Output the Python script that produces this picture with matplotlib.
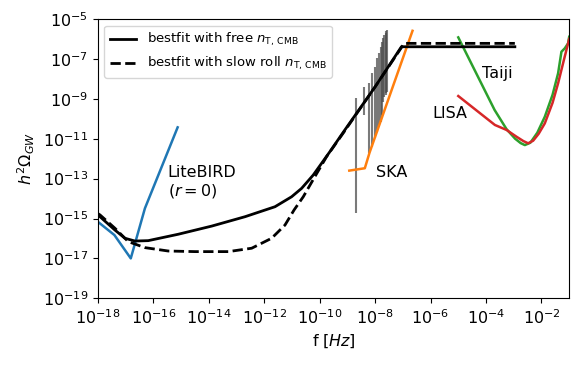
import numpy as np
import matplotlib
matplotlib.use("Agg")
import matplotlib.pyplot as plt
from matplotlib.ticker import NullLocator

# ---- data (log10 values) ----
free_logf = [-18.0, -17.92, -17.38, -17.02, -16.66, -16.18, -15.10, -13.89, -12.69, -11.61, -11.01,
             -10.65, -10.23, -9.63, -9.09, -8.0, -7.05, -2.96]
free_logy = [-14.87, -14.91, -15.58, -15.99, -16.13, -16.11, -15.79, -15.38, -14.91, -14.41, -13.91,
             -13.49, -12.82, -11.65, -10.56, -8.4, -6.39, -6.39]

slow_logf = [-18.0, -17.92, -17.38, -16.9, -16.3, -15.46, -14.49, -13.29, -12.45, -11.73, -11.25,
             -10.92, -10.59, -10.17, -9.75, -9.09, -8.0, -6.95, -2.96]
slow_logy = [-14.75, -14.82, -15.49, -16.16, -16.46, -16.63, -16.66, -16.66, -16.49, -15.99, -15.33,
             -14.57, -13.91, -12.9, -11.9, -10.6, -8.4, -6.22, -6.22]

litebird_logf = [-18.0, -17.4, -16.81, -16.3, -15.12]
litebird_logy = [-15.16, -15.83, -17.0, -14.49, -10.43]

ska_logf = [-8.93, -8.37, -8.2, -6.65]
ska_logy = [-12.6, -12.48, -11.7, -5.59]

taiji_logf = [-5.0, -3.69, -3.26, -2.95, -2.75, -2.6, -2.4, -2.15, -1.88, -1.6, -1.40, -1.28, -1.16, -1.04, -1.0]
taiji_logy = [-5.92, -9.56, -10.52, -11.0, -11.22, -11.32, -11.2, -10.7, -9.90, -8.8, -7.72, -6.64, -6.47, -6.22, -5.89]

lisa_logf = [-5.0, -3.68, -3.26, -2.9, -2.65, -2.48, -2.3, -2.1, -1.88, -1.6, -1.40, -1.2, -1.04, -1.0]
lisa_logy = [-8.86, -10.31, -10.56, -10.9, -11.12, -11.23, -11.1, -10.75, -10.23, -9.2, -8.22, -7.1, -6.22, -6.0]

# PTA violins: frequency (Hz), lower / upper log10(h^2 Omega)
pta_f = [1.98e-9, 3.96e-9, 5.94e-9, 7.92e-9, 9.90e-9, 1.19e-8, 1.39e-8, 1.58e-8, 1.78e-8, 1.98e-8,
         2.18e-8, 2.38e-8, 2.57e-8, 2.77e-8]
pta_lo = [-14.72, -9.81, -11.72, -11.40, -10.96, -10.65, -10.31, -10.15, -9.81, -9.15, -8.9, -8.8, -8.7, -8.64]
pta_hi = [-8.96, -8.39, -8.21, -7.71, -7.39, -6.95, -6.70, -6.39, -6.14, -5.95, -5.8, -5.7, -5.6, -5.55]

xticks_exp = [-18, -16, -14, -12, -10, -8, -6, -4, -2]
yticks_exp = [-19, -17, -15, -13, -11, -9, -7, -5]

def p(a):
    return 10.0 ** np.asarray(a, dtype=float)

fig = plt.figure(figsize=(5.82, 3.66), dpi=100)
ax = fig.add_axes([0.168, 0.185, 0.81, 0.763])

# PTA violins
for f, lo, hi in zip(pta_f, pta_lo, pta_hi):
    ax.vlines(f, 10**lo, 10**hi, color='0.3', lw=1.5, alpha=0.75, zorder=1)

ax.plot(p(litebird_logf), p(litebird_logy), color='#1f77b4', lw=1.8, zorder=2)
ax.plot(p(ska_logf), p(ska_logy), color='#ff7f0e', lw=1.8, zorder=2)
ax.plot(p(taiji_logf), p(taiji_logy), color='#2ca02c', lw=1.8, zorder=2)
ax.plot(p(lisa_logf), p(lisa_logy), color='#d62728', lw=1.8, zorder=2)

ax.plot(p(free_logf), p(free_logy), color='black', lw=2, ls='-',
        label=r'bestfit with free $n_{\rm T,\,CMB}$', zorder=3)
ax.plot(p(slow_logf), p(slow_logy), color='black', lw=2, ls='--',
        label=r'bestfit with slow roll $n_{\rm T,\,CMB}$', zorder=3)

ax.set_xscale('log')
ax.set_yscale('log')
ax.set_xlim(1e-18, 1e-1)
ax.set_ylim(1e-19, 1e-5)
ax.set_xticks([10.0**e for e in xticks_exp])
ax.set_xticklabels([r'$10^{%d}$' % e for e in xticks_exp])
ax.set_yticks([10.0**e for e in yticks_exp])
ax.set_yticklabels([r'$10^{%d}$' % e for e in yticks_exp])
ax.xaxis.set_minor_locator(NullLocator())
ax.yaxis.set_minor_locator(NullLocator())
ax.tick_params(labelsize=11.5)

ax.set_xlabel(r'f $[Hz]$', fontsize=11.5)
ax.set_ylabel(r'$h^2\Omega_{GW}$', fontsize=11.5)

ax.text(3.3e-16, 10**-13.2, 'LiteBIRD\n' + r'$(r=0)$', fontsize=11.5, va='center', ha='left')
ax.text(1.05e-8, 10**-12.7, 'SKA', fontsize=11.5, va='center', ha='left')
ax.text(10**-4.16, 10**-7.72, 'Taiji', fontsize=11.5, va='center', ha='left')
ax.text(10**-5.95, 10**-9.73, 'LISA', fontsize=11.5, va='center', ha='left')

ax.legend(loc='upper left', fontsize=9.5)

fig.savefig('out.png', dpi=100)
